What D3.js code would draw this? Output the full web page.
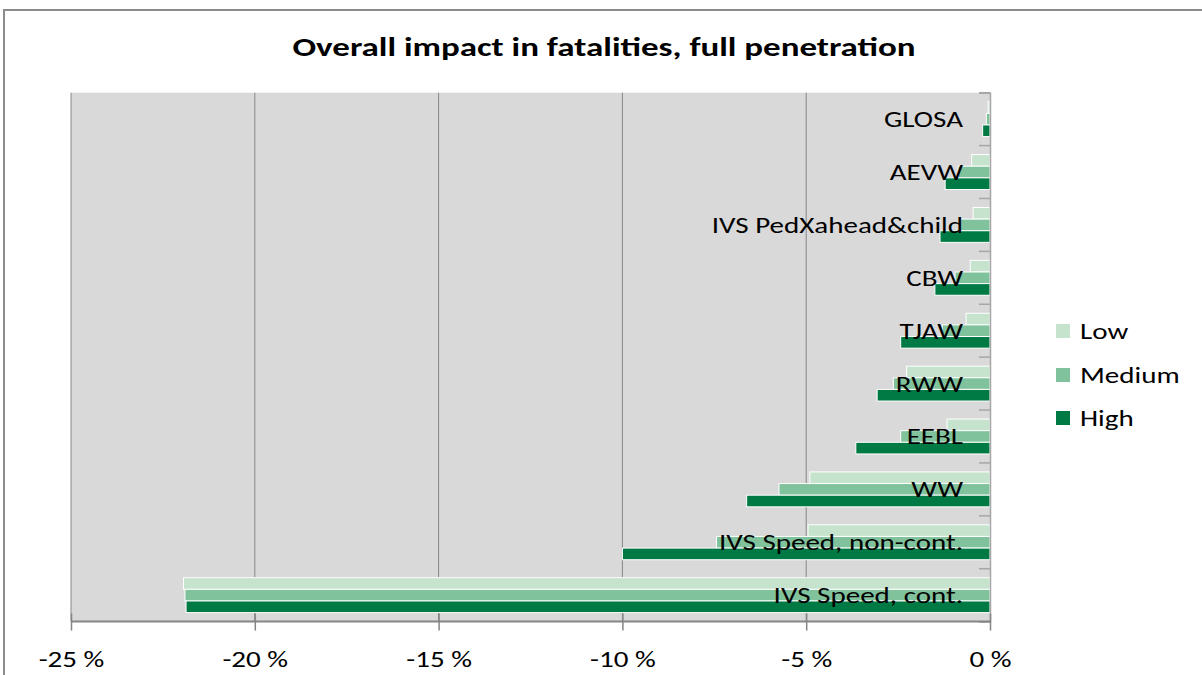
<!DOCTYPE html>
<html>
<head>
<meta charset="utf-8">
<script src="https://cdn.jsdelivr.net/npm/d3@7"></script>
<style>
  body { margin: 0; background: #fff; }
  svg text { font-family: Carlito, Calibri, Lato, sans-serif; fill: #000; }
</style>
</head>
<body>
<svg id="chart" width="1202" height="675"></svg>
<script>
// Data (percent change in fatalities)
const categories = [
  'GLOSA',
  'AEVW',
  'IVS PedXahead&child',
  'CBW',
  'TJAW',
  'RWW',
  'EEBL',
  'WW',
  'IVS Speed, non-cont.',
  'IVS Speed, cont.',
];
const seriesNames = ['Low', 'Medium', 'High'];
const lowValues = [-0.05, -0.5, -0.46, -0.54, -0.65, -2.27, -1.17, -4.9, -4.95, -21.94];
const mediumValues = [-0.1, -0.87, -0.82, -0.95, -1.3, -2.63, -2.43, -5.74, -7.44, -21.9];
const highValues = [-0.2, -1.22, -1.36, -1.5, -2.43, -3.07, -3.65, -6.62, -10.0, -21.87];
const xTicks = [-25, -20, -15, -10, -5, 0];

const COLORS = { Low: '#c6e3ce', Medium: '#80c29b', High: '#007a44' };
const SX = 1.32; // the reference text is stretched horizontally

const svg = d3.select('#chart');
const width = 1202;
const height = 675;
const plot = { left: 71, right: 990, top: 92.7, bottom: 621.6 };

// Helper: stretched text anchored at (x, y)
function stretchedText(parent, x, y, str, size, anchor, weight) {
  return parent
    .append('text')
    .attr('transform', `translate(${x}, ${y}) scale(${SX}, 1)`)
    .attr('text-anchor', anchor)
    .style('font-size', `${size}px`)
    .style('font-weight', weight || 400)
    .text(str);
}

// Outer frame (only top and left edges visible)
svg
  .append('path')
  .attr('d', `M4,${height} V10 H${width}`)
  .attr('fill', 'none')
  .attr('stroke', '#8c8c8c')
  .attr('stroke-width', 2);

// Title
stretchedText(svg, 604, 56, 'Overall impact in fatalities, full penetration', 26.5, 'middle', 700);

// Scales
const xscale = d3.scaleLinear().domain([-25, 0]).range([plot.left, plot.right]);
const yscale = d3
  .scaleBand()
  .domain(categories)
  .range([plot.top, plot.bottom])
  .paddingInner(0.34)
  .paddingOuter(0.17);
const seriesScale = d3.scaleBand().domain(seriesNames).range([0, yscale.bandwidth()]);

// Plot background
svg
  .append('rect')
  .attr('x', plot.left)
  .attr('y', plot.top)
  .attr('width', plot.right - plot.left)
  .attr('height', plot.bottom - plot.top)
  .attr('fill', '#d9d9d9');

// Vertical gridlines
svg
  .append('g')
  .selectAll('line')
  .data(xTicks.filter((t) => t !== 0))
  .enter()
  .append('line')
  .attr('x1', (d) => xscale(d))
  .attr('x2', (d) => xscale(d))
  .attr('y1', plot.top)
  .attr('y2', plot.bottom)
  .attr('stroke', '#868686')
  .attr('stroke-width', 1);

// Bars
const rows = categories.map((name, i) => ({
  name,
  Low: lowValues[i],
  Medium: mediumValues[i],
  High: highValues[i],
}));

const groups = svg
  .append('g')
  .selectAll('g')
  .data(rows)
  .enter()
  .append('g')
  .attr('transform', (d) => `translate(0, ${yscale(d.name)})`);

groups
  .selectAll('rect')
  .data((d) => seriesNames.map((s) => ({ series: s, value: d[s] })))
  .enter()
  .append('rect')
  .attr('x', (d) => xscale(d.value))
  .attr('y', (d) => seriesScale(d.series))
  .attr('width', (d) => xscale(0) - xscale(d.value))
  .attr('height', seriesScale.bandwidth())
  .attr('fill', (d) => COLORS[d.series])
  .attr('stroke', '#fff')
  .attr('stroke-width', 1);

// Category axis sitting on the zero line, ticks pointing inward on band boundaries
const yAxis = d3.axisLeft(yscale).tickSize(11).tickFormat('');
const yAxisG = svg
  .append('g')
  .attr('transform', `translate(${plot.right}, 0)`)
  .call(yAxis);
yAxisG
  .selectAll('.tick')
  .attr('transform', (d, i) => `translate(0, ${plot.top + (i + 1) * yscale.step()})`);
yAxisG.select('.domain').attr('stroke', '#a6a6a6').attr('stroke-width', 1.5);
yAxisG.selectAll('.tick line').attr('stroke', '#a6a6a6').attr('stroke-width', 1.5);
yAxisG
  .append('line')
  .attr('x1', -11)
  .attr('x2', 0)
  .attr('y1', plot.top)
  .attr('y2', plot.top)
  .attr('stroke', '#a6a6a6')
  .attr('stroke-width', 1.5);

// Category labels drawn inside the plot, right aligned near zero
const labelG = svg.append('g');
categories.forEach((c) => {
  stretchedText(labelG, 963, yscale(c) + yscale.bandwidth() / 2 + 8, c, 22, 'end');
});

// Value axis at the bottom
const xAxis = d3
  .axisBottom(xscale)
  .tickValues(xTicks)
  .tickSize(9)
  .tickFormat((d) => `${d} %`);
const xAxisG = svg
  .append('g')
  .attr('transform', `translate(0, ${plot.bottom})`)
  .call(xAxis);
xAxisG.select('.domain').attr('stroke', '#868686').attr('stroke-width', 2).attr('d', `M${plot.left},0H${plot.right}`);
xAxisG.selectAll('.tick line').attr('stroke', '#868686').attr('stroke-width', 1.5).attr('y1', -8);
xAxisG
  .selectAll('.tick text')
  .attr('y', 0)
  .attr('dy', 0)
  .attr('transform', `translate(0, 45) scale(${SX}, 1)`)
  .style('font-size', '22px')
  .style('font-family', 'Carlito, Calibri, Lato, sans-serif');

// Legend
const legend = svg.append('g').attr('id', 'legend');
const legendY = [331, 375, 418];
seriesNames.forEach((s, i) => {
  legend
    .append('rect')
    .attr('x', 1056)
    .attr('y', legendY[i] - 7)
    .attr('width', 14)
    .attr('height', 14)
    .attr('fill', COLORS[s]);
  stretchedText(legend, 1080, legendY[i] + 8, s, 22, 'start');
});
</script>
</body>
</html>
